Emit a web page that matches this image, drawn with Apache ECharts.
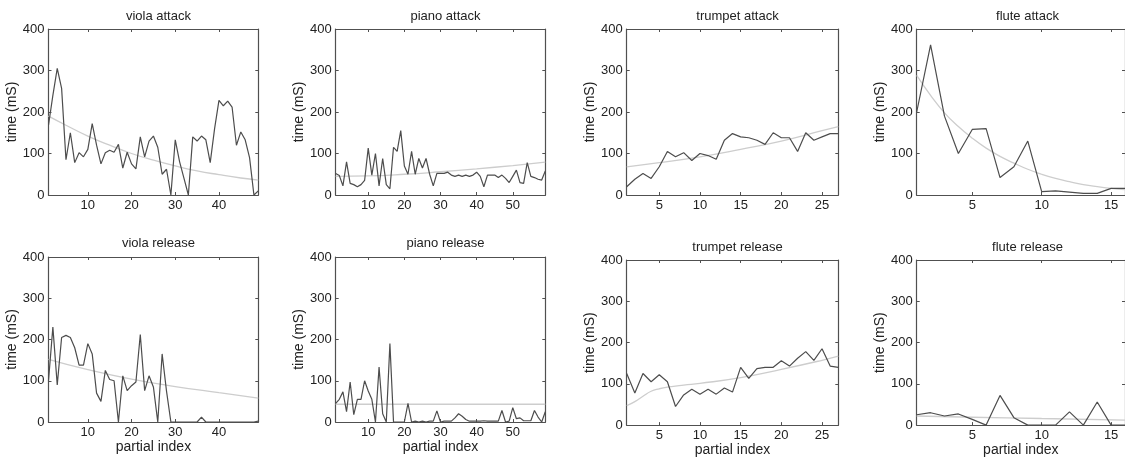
<!DOCTYPE html>
<html><head><meta charset="utf-8">
<script src="https://cdn.jsdelivr.net/npm/echarts@6/dist/echarts.min.js"></script>
<style>html,body{margin:0;padding:0;background:#fff}#c{width:1125px;height:458px}</style>
</head><body><div id="c"></div>
<script>
// ---- data ----
const violaAttack = [168,240,305,257,85,150,78,102,92,110,172,120,75,102,108,103,122,65,103,75,63,140,92,130,142,115,50,62,0,133,80,40,0,140,130,142,133,78,160,228,215,226,212,120,152,133,90,0,10];
const pianoAttack = [52,47,22,80,28,25,20,25,35,113,48,100,22,88,25,15,115,105,155,70,50,105,50,88,65,88,50,22,52,52,52,55,48,45,48,45,48,45,48,55,45,20,48,48,48,42,48,40,30,45,60,30,28,78,45,42,38,36,58];
const trumpetAttack = [20,38,52,40,68,105,92,102,83,100,95,86,132,148,140,138,132,122,150,138,138,105,150,132,140,148,148];
const fluteAttack = [200,362,190,100,158,160,42,68,130,8,10,7,4,4,16,16];
const violaRelease = [100,230,90,205,210,205,180,138,138,190,165,70,50,125,103,100,0,112,76,88,97,212,76,112,85,0,165,75,0,0,0,0,0,0,0,12,0,0,0,0,0,0,0,0,0,0,0,0,2];
const pianoRelease = [45,55,73,25,97,18,55,55,100,75,55,0,133,20,0,190,0,0,0,0,45,0,2,0,2,0,2,2,27,0,2,2,2,10,20,14,6,2,2,2,2,3,2,2,2,2,28,0,2,35,8,10,3,3,3,28,12,0,25];
const trumpetRelease = [125,78,125,105,122,105,45,73,87,75,87,75,90,80,140,113,137,140,140,156,143,162,178,157,185,143,140];
const fluteRelease = [25,30,22,27,14,0,72,18,0,0,0,32,0,56,0,0];

// fitted trend curves (x positions and values)
const violaAttackFitX = [1,5,10,15,20,25,30,35,40,45,49];
const violaAttackFit  = [190,168,142,120,100,84,70,58,49,41,36];
const pianoAttackFitX = [1,10,20,30,40,50,59];
const pianoAttackFit  = [45,46,50,56,63,71,79];
const trumpetAttackFitX = [1,5,10,15,20,25,27];
const trumpetAttackFit  = [68,78,92,110,130,155,165];
const fluteAttackFitX = [1,2,3,4,5,6,7,8,9,10,11,12,13,14,15,16];
const fluteAttackFit  = [288,240,198,165,137,113,93,77,62,50,40,32,25,20,16,13];
const violaReleaseFitX = [1,10,20,30,40,49];
const violaReleaseFit  = [152,127,104,86,71,58];
const pianoReleaseFitX = [1,59];
const pianoReleaseFit  = [43,43];
const trumpetReleaseFitX = [1,2,3,4,5,6,8,10,15,20,25,27];
const trumpetReleaseFit  = [47,57,70,82,88,92,97,101,115,135,157,167];
const fluteReleaseFitX = [1,5,10,16];
const fluteReleaseFit  = [22,19,16,12];

const titles = ['viola attack','piano attack','trumpet attack','flute attack','viola release','piano release','trumpet release','flute release'];
const xTicks = [[10,20,30,40],[10,20,30,40,50],[5,10,15,20,25],[5,10,15]];
const yName = 'time (mS)';
const xName = 'partial index';

const seriesData = [violaAttack,pianoAttack,trumpetAttack,fluteAttack,violaRelease,pianoRelease,trumpetRelease,fluteRelease];
const fitX = [violaAttackFitX,pianoAttackFitX,trumpetAttackFitX,fluteAttackFitX,violaReleaseFitX,pianoReleaseFitX,trumpetReleaseFitX,fluteReleaseFitX];
const fitY = [violaAttackFit,pianoAttackFit,trumpetAttackFit,fluteAttackFit,violaReleaseFit,pianoReleaseFit,trumpetReleaseFit,fluteReleaseFit];

// ---- layout ----
const lefts = [48.5, 335.7, 626.7, 916.7];
const widths = [209.8, 209.6, 211.6, 211.5];
const rowTop = [[29,29,29,29],[257,257,260,260]];
const rowH = [[166,166,166,166],[165,165,167,167]];
const titleY = [[5,5,5,5],[232,232,236,236]];

const FONT = 'Liberation Sans, Arial, sans-serif';
const TXT = '#222';
const AX = '#505050';

const grid=[], xAxis=[], yAxis=[], series=[], title=[];
for (let i=0;i<8;i++){
  const r = Math.floor(i/4), c = i%4;
  const n = seriesData[i].length;
  grid.push({left:lefts[c], top:rowTop[r][c], width:widths[c], height:rowH[r][c], show:false, containLabel:false});
  title.push({text:titles[i], left:lefts[c]+widths[c]/2, top:titleY[r][c], textAlign:'center',
    textStyle:{fontFamily:FONT, fontSize:13, fontWeight:'normal', color:TXT}});
  const axLine = {show:true, onZero:false, lineStyle:{color:AX, width:1.2}};
  const tickStyle = {color:AX, width:1};
  xAxis.push({gridIndex:i, type:'value', min:1, max:n, position:'bottom',
    axisLine:axLine, splitLine:{show:false},
    axisTick:{show:true, inside:true, length:3, customValues:xTicks[c], lineStyle:tickStyle},
    axisLabel:{show:true, customValues:xTicks[c], margin:4, color:TXT, fontFamily:FONT, fontSize:13},
    name: r===1 ? xName : '', nameLocation:'middle', nameGap:14,
    nameTextStyle:{fontFamily:FONT, fontSize:14, color:TXT}});
  xAxis.push({gridIndex:i, type:'value', min:1, max:n, position:'top',
    axisLine:axLine, splitLine:{show:false},
    axisTick:{show:true, inside:true, length:3, customValues:xTicks[c], lineStyle:tickStyle},
    axisLabel:{show:false}});
  yAxis.push({gridIndex:i, type:'value', min:0, max:400, interval:100, position:'left',
    axisLine:axLine, splitLine:{show:false},
    axisTick:{show:true, inside:true, length:3, lineStyle:tickStyle},
    axisLabel:{show:true, margin:4, color:TXT, fontFamily:FONT, fontSize:13},
    name:yName, nameLocation:'middle', nameGap:27, nameRotate:90,
    nameTextStyle:{fontFamily:FONT, fontSize:14, color:TXT}});
  yAxis.push({gridIndex:i, type:'value', min:0, max:400, interval:100, position:'right',
    axisLine:axLine, splitLine:{show:false},
    axisTick:{show:true, inside:true, length:3, lineStyle:tickStyle},
    axisLabel:{show:false}});
  series.push({type:'line', xAxisIndex:2*i, yAxisIndex:2*i, smooth:0.5, showSymbol:false, silent:true,
    data: fitX[i].map((x,k)=>[x, fitY[i][k]]),
    lineStyle:{color:'#cdcdcd', width:1.3}, z:2});
  series.push({type:'line', xAxisIndex:2*i, yAxisIndex:2*i, showSymbol:false, silent:true,
    data: seriesData[i].map((v,k)=>[k+1, v]),
    lineStyle:{color:'#4d4d4d', width:1.2}, z:3});
}

const chart = echarts.init(document.getElementById('c'), null, {renderer:'canvas'});
chart.setOption({animation:false, backgroundColor:'#fff', title, grid, xAxis, yAxis, series});
</script>
</body></html>
